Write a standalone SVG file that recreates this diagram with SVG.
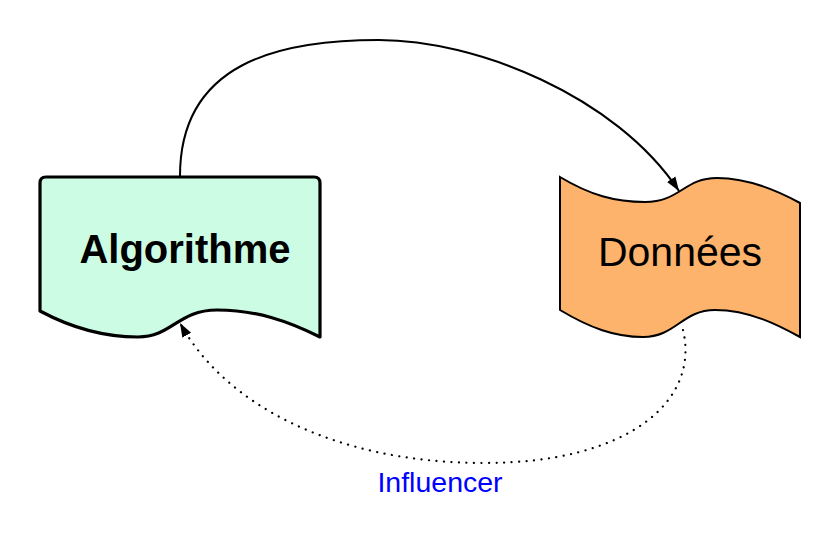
<svg xmlns="http://www.w3.org/2000/svg" width="840" height="557" viewBox="0 0 840 557">
<style>
.lbl{font-family:"Liberation Sans",Arial,sans-serif;text-anchor:middle}
.edge{fill:none;stroke:#000}
</style>
<defs>
<marker id="arr" markerUnits="userSpaceOnUse" markerWidth="16" markerHeight="12" viewBox="0 0 16 12" refX="14" refY="6" orient="auto">
<path d="M0,1 L14,6 L0,11 Z" fill="#000"/>
</marker>
</defs>
<rect width="840" height="557" fill="#fff"/>
<g id="node-algorithme">
<path d="M40,183 Q40,177 46,177 L314,177 Q320,177 320,183 L320,337 C288,321 256,310 217,310 C178,310 172,337 138,337 C100,337 68,326 40,311 Z" fill="#ccfde4" stroke="#000" stroke-width="3.2" stroke-linejoin="round"/>
<text class="lbl" x="185" y="263" font-size="40" font-weight="bold">Algorithme</text>
</g>
<g id="node-donnees">
<path d="M560,177 C590,195 615,202 645,202 C680,202 684,178 717,178 C750,178 780,192 800,203 L800,337 C780,326 750,310 715,310 C682,310 676,337 643,337 C615,337 590,328 560,310 Z" fill="#fdb36b" stroke="#000" stroke-width="2"/>
<text class="lbl" x="680" y="266" font-size="41">Données</text>
</g>
<g id="connectors">
<path class="edge" d="M180,176 C180,62 280,40 379,40 C475,40 615,95 679,191" stroke-width="2" marker-end="url(#arr)"/>
<path class="edge" d="M683,330 C700,400 630,463 484,463 C335,463 225,405 180,323" stroke-width="2.2" stroke-dasharray="0.1 7.4" stroke-linecap="round" marker-end="url(#arr)"/>
<text class="lbl" x="440" y="492" font-size="28.5" fill="#0000ff">Influencer</text>
</g>
</svg>
